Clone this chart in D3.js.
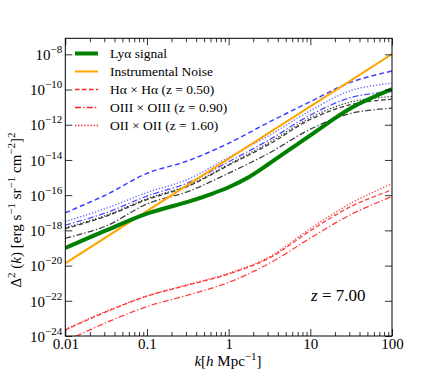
<!DOCTYPE html>
<html><head><meta charset="utf-8">
<script src="https://cdn.jsdelivr.net/npm/d3@7"></script>
<style>body{margin:0;background:#fff}svg{display:block}text{font-family:"Liberation Serif","DejaVu Serif",serif}</style>
</head><body><svg id="c" width="436" height="382"></svg>
<script>
// ---- data (log10 of Δ²(k)) ----
const kGrid = [0.01, 0.0316, 0.1, 0.316, 1, 3.16, 10, 31.6, 100];
const lyaK        = [0.01, 0.0316, 0.1, 0.316, 0.6, 1, 1.8, 3.16, 10, 31.6, 100];
const lyaLog      = [-19.0, -18.0, -17.05, -16.38, -15.95, -15.55, -14.95, -14.2, -12.6, -11.05, -9.98];
const noiseK      = [0.01, 100];
const noiseLog    = [-19.87, -7.99];
const blueDashLog = [-17.0, -15.98, -14.76, -14.05, -13.05, -11.84, -10.69, -9.58, -8.95];
const blueDotLog  = [-17.5, -16.75, -15.85, -15.1, -13.85, -12.6, -11.2, -10.05, -9.64];
const blueDDLog   = [-17.7, -17.0, -16.05, -15.3, -14.1, -12.85, -11.45, -10.45, -10.1];
const blackDashLog= [-17.9, -17.2, -16.25, -15.5, -14.3, -13.1, -11.7, -10.85, -10.55];
const blackDotLog = [-17.85, -17.15, -16.2, -15.45, -14.25, -13.0, -11.6, -10.7, -10.4];
const blackDDLog  = [-18.45, -17.75, -16.5, -15.8, -14.75, -13.6, -12.25, -11.35, -11.06];
const redDashLog  = [-23.66, -22.63, -21.74, -21.11, -20.48, -19.57, -18.02, -16.64, -15.7];
const redDotLog   = [-23.62, -22.6, -21.72, -21.08, -20.44, -19.5, -17.9, -16.45, -15.35];
const redDDLog    = [-24.3, -23.24, -22.33, -21.68, -20.95, -19.87, -18.44, -17.09, -16.08];
const xTickVals   = [0.01, 0.1, 1, 10, 100];
const xTickLabels = ["0.01", "0.1", "1", "10", "100"];
const yTickExps   = [-24, -22, -20, -18, -16, -14, -12, -10, -8];
const legendLabels = ["Lyα signal", "Instrumental Noise", "Hα  × Hα  (z = 0.50)", "OIII  × OIII  (z = 0.90)", "OII  × OII  (z = 1.60)"];

const svg = d3.select("#c");
const L = 65.3, R = 392, T = 38.3, B = 336;
const x = d3.scaleLog().domain([0.01, 100]).range([L, R]);
const y = d3.scaleLog().domain([1e-24, Math.pow(10, -7.09)]).range([B, T]);

svg.append("clipPath").attr("id", "clip").append("rect")
  .attr("x", L).attr("y", T).attr("width", R - L).attr("height", B - T);

const line = d3.line().x(d => x(d[0])).y(d => y(Math.pow(10, d[1]))).curve(d3.curveCatmullRom.alpha(0.5));
const pts = (ks, ls) => ks.map((k, i) => [k, ls[i]]);

const DD = "6,2.2,1.3,2.2", DA = "4.5,2.5", DO = "1.3,1.8";
const series = [
  {k: kGrid, v: redDDLog, c: "#ff2020", w: 1.3, dash: DD, o: 0.85},
  {k: kGrid, v: redDashLog, c: "#ff2020", w: 1.3, dash: DA, o: 0.85},
  {k: kGrid, v: redDotLog, c: "#ff2020", w: 1.3, dash: DO, o: 0.85},
  {k: kGrid, v: blackDDLog, c: "#000", w: 1.3, dash: DD, o: 0.75},
  {k: kGrid, v: blackDashLog, c: "#000", w: 1.3, dash: DA, o: 0.75},
  {k: kGrid, v: blackDotLog, c: "#000", w: 1.3, dash: DO, o: 0.75},
  {k: kGrid, v: blueDDLog, c: "#0000ff", w: 1.3, dash: DD, o: 0.7},
  {k: kGrid, v: blueDotLog, c: "#0000ff", w: 1.3, dash: DO, o: 0.6},
  {k: kGrid, v: blueDashLog, c: "#0000ff", w: 1.5, dash: "5,3", o: 0.75},
  {k: noiseK, v: noiseLog, c: "#ffa500", w: 2, dash: null, o: 1},
  {k: lyaK, v: lyaLog, c: "#008000", w: 4, dash: null, o: 1}
];
const g = svg.append("g").attr("clip-path", "url(#clip)");
series.forEach(s => {
  g.append("path").attr("d", line(pts(s.k, s.v))).attr("fill", "none")
    .attr("stroke", s.c).attr("stroke-width", s.w).attr("stroke-opacity", s.o)
    .attr("stroke-dasharray", s.dash);
});

// ---- axes ----
const minorX = [];
[0.01, 0.1, 1, 10].forEach(d => { for (let m = 2; m <= 9; m++) minorX.push(d * m); });
function xAxes(gen, ty, sign) {
  const a = svg.append("g").attr("transform", `translate(0,${ty})`);
  a.call(gen(x).tickValues(xTickVals).tickSize(sign * 7).tickFormat(""));
  a.append("g").call(gen(x).tickValues(minorX).tickSize(sign * 4).tickFormat(""));
  a.selectAll(".domain").remove();
  a.selectAll("line").attr("stroke", "#000").attr("stroke-width", 0.8);
  return a;
}
const bx = xAxes(d3.axisBottom, B, -1);
xAxes(d3.axisTop, T, -1);
bx.selectAll(".tick").filter(d => xTickVals.includes(d)).each(function(d) {
  d3.select(this).append("text").attr("y", 13).attr("text-anchor", "middle")
    .attr("fill", "#000").attr("font-size", 15).text(xTickLabels[xTickVals.indexOf(d)]);
});
const yVals = yTickExps.map(e => Math.pow(10, e));
function yAxes(gen, tx) {
  const a = svg.append("g").attr("transform", `translate(${tx},0)`);
  a.call(gen(y).tickValues(yVals).tickSize(-7).tickFormat(""));
  a.selectAll(".domain").remove();
  a.selectAll("line").attr("stroke", "#000").attr("stroke-width", 0.8);
  return a;
}
const ly = yAxes(d3.axisLeft, L);
yAxes(d3.axisRight, R);
ly.selectAll(".tick").each(function(d, i) {
  const t = d3.select(this).append("text").attr("x", -3).attr("dy", "0.35em").attr("text-anchor", "end")
    .attr("fill", "#000").attr("font-size", 15);
  t.append("tspan").text("10");
  t.append("tspan").attr("dy", -7).attr("font-size", 11).text("−" + Math.abs(yTickExps[i]));
});
svg.append("rect").attr("x", L).attr("y", T).attr("width", R - L).attr("height", B - T)
  .attr("fill", "none").attr("stroke", "#000").attr("stroke-width", 1);

// ---- axis labels ----
const xl = svg.append("text").attr("x", 228).attr("y", 366).attr("text-anchor", "middle").attr("font-size", 15);
xl.append("tspan").attr("font-style", "italic").text("k");
xl.append("tspan").text("[");
xl.append("tspan").attr("font-style", "italic").text("h");
xl.append("tspan").text(" Mpc");
xl.append("tspan").attr("dy", -6).attr("font-size", 11).text("−1");
xl.append("tspan").attr("dy", 6).text("]");

const yl = svg.append("text").attr("transform", "translate(21,210) rotate(-90)").attr("text-anchor", "middle").attr("font-size", 15);
yl.append("tspan").text("Δ");
yl.append("tspan").attr("dy", -6).attr("font-size", 11).text("2");
yl.append("tspan").attr("dy", 6).text(" (");
yl.append("tspan").attr("font-style", "italic").text("k");
yl.append("tspan").text(") [erg s");
yl.append("tspan").attr("dy", -6).attr("font-size", 11).text("−1");
yl.append("tspan").attr("dy", 6).text(" sr");
yl.append("tspan").attr("dy", -6).attr("font-size", 11).text("−1");
yl.append("tspan").attr("dy", 6).text(" cm");
yl.append("tspan").attr("dy", -6).attr("font-size", 11).text("−2");
yl.append("tspan").attr("dy", 6).text("]");
yl.append("tspan").attr("dy", -6).attr("font-size", 11).text("2");

// ---- legend ----
const legStyles = [
  {c: "#008000", w: 4, dash: null}, {c: "#ffa500", w: 2, dash: null},
  {c: "#ff2020", w: 1.3, dash: DA}, {c: "#ff2020", w: 1.3, dash: DD},
  {c: "#ff2020", w: 1.3, dash: DO}
];
const lg = svg.append("g");
legendLabels.forEach((lab, i) => {
  const yy = 53.5 + i * 18;
  lg.append("line").attr("x1", 75).attr("x2", 98).attr("y1", yy).attr("y2", yy)
    .attr("stroke", legStyles[i].c).attr("stroke-width", legStyles[i].w).attr("stroke-dasharray", legStyles[i].dash);
  lg.append("text").attr("x", 110).attr("y", yy).attr("dy", "0.35em").attr("font-size", 13.5).text(lab);
});

// annotation
const za = svg.append("text").attr("x", 311).attr("y", 301).attr("font-size", 17);
za.append("tspan").attr("font-style", "italic").text("z");
za.append("tspan").text(" = 7.00");
</script></body></html>
